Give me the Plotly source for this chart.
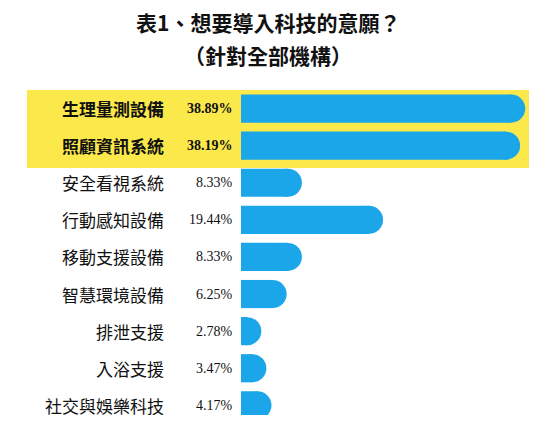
import plotly.graph_objects as go

categories = ["生理量測設備","照顧資訊系統","安全看視系統","行動感知設備","移動支援設備","智慧環境設備","排泄支援","入浴支援","社交與娛樂科技"]
values = [38.89,38.19,8.33,19.44,8.33,6.25,2.78,3.47,4.17]
labels = ["38.89%","38.19%","8.33%","19.44%","8.33%","6.25%","2.78%","3.47%","4.17%"]
highlight = [True, True] + [False]*7

OFF = 8  # page body margin
W, H = 537 - 2*OFF, 423 - 2*OFF
TOP = 90 - OFF
PH = H - TOP
bx = 241 - OFF
xmax = 40.5
px_per_unit = (537 - 241) / xmax
r = 14 / px_per_unit
color = "#1aa6e8"
ys = list(range(len(categories)))
row = 37.1

fig = go.Figure()
fig.add_trace(go.Bar(x=[v - r for v in values], y=ys, orientation="h", width=0.76,
                     marker=dict(color=color, line=dict(width=0)), hoverinfo="skip"))
fig.add_trace(go.Scatter(x=[v - r for v in values], y=ys, mode="markers",
                         marker=dict(size=28, color=color, line=dict(width=0)), hoverinfo="skip"))

fig.add_shape(type="rect", xref="paper", yref="y", x0=(27-OFF)/W, x1=1.05, y0=-0.5, y1=1.6,
              fillcolor="#fbe84a", line=dict(width=0), layer="below")

for i, (c, l, h) in enumerate(zip(categories, labels, highlight)):
    fig.add_annotation(xref="paper", yref="y", x=(166-OFF)/W, y=i, text=f"<b>{c}</b>" if h else c,
                       xanchor="right", showarrow=False,
                       font=dict(family="Noto Sans CJK TC", size=17, color="#111"))
    fig.add_annotation(xref="paper", yref="y", x=(235-OFF)/W, y=i, text=f"<b>{l}</b>" if h else l,
                       xanchor="right", showarrow=False,
                       font=dict(family="Liberation Serif", size=14, color="#111"))

fig.add_annotation(xref="paper", yref="paper", x=(268-OFF)/W, y=(H-(22-OFF))/PH - TOP/PH + TOP/PH, yanchor="middle",
                   text="<b>表1、想要導入科技的意願？</b>", showarrow=False,
                   font=dict(family="Noto Sans CJK TC", size=21, color="#111"))
fig.add_annotation(xref="paper", yref="paper", x=(268-OFF)/W, y=(H-(55-OFF))/PH, yanchor="middle",
                   text="<b>（針對全部機構）</b>", showarrow=False,
                   font=dict(family="Noto Sans CJK TC", size=21, color="#111"))

fig.update_layout(width=W, height=H, margin=dict(l=0, r=0, t=TOP, b=0),
                  plot_bgcolor="white", paper_bgcolor="white", showlegend=False,
                  xaxis=dict(domain=[bx/W, 1], range=[0, (W-bx)/px_per_unit], visible=False, fixedrange=True),
                  yaxis=dict(range=[-0.5 + PH/row, -0.5], visible=False, fixedrange=True))
fig.write_html("out.html")
